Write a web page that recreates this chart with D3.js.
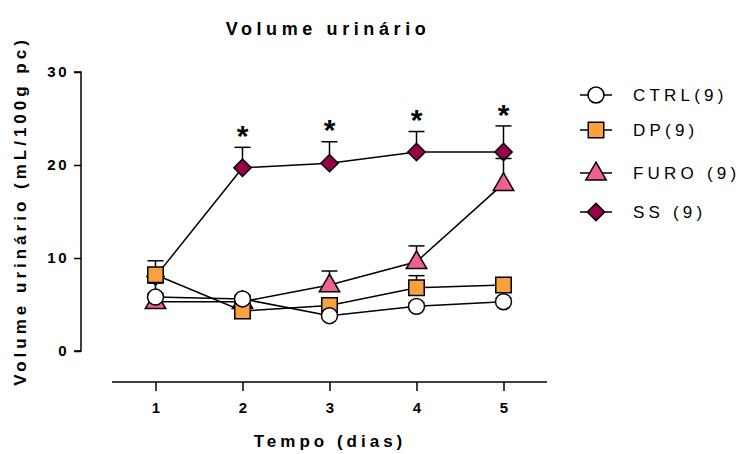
<!DOCTYPE html>
<html>
<head>
<meta charset="utf-8">
<script src="https://cdn.jsdelivr.net/npm/d3@7"></script>
<style>
  body { margin: 0; background: #fff; }
  svg { display: block; font-family: "Liberation Sans", Arial, sans-serif; }
</style>
</head>
<body>
<svg id="chart" width="739" height="454"></svg>
<script>
const days = [1, 2, 3, 4, 5];
const yTicks = [0, 10, 20, 30];

const ctrl = [5.8, 5.6, 3.8, 4.8, 5.3];
const ctrlErr = [0.4, 0.4, 0.3, 0.4, 0.4];
const dp = [8.2, 4.3, 4.9, 6.8, 7.1];
const dpErr = [1.5, 0.5, 0.5, 1.3, 0.6];
const furo = [5.3, 5.3, 7.1, 9.6, 18.0];
const furoErr = [2.0, 0.5, 1.5, 1.7, 2.7];
const ss = [8.0, 19.7, 20.2, 21.4, 21.4];
const ssErr = [0.6, 2.2, 2.3, 2.2, 2.8];
const ssSignif = [false, true, true, true, true];

const seriesNames = ["CTRL(9)", "DP(9)", "FURO (9)", "SS (9)"];

const series = [
  { name: seriesNames[0], values: ctrl, err: ctrlErr, shape: "circle", fill: "#ffffff" },
  { name: seriesNames[1], values: dp, err: dpErr, shape: "square", fill: "#f9a03f" },
  { name: seriesNames[2], values: furo, err: furoErr, shape: "triangle", fill: "#f06090" },
  { name: seriesNames[3], values: ss, err: ssErr, shape: "diamond", fill: "#990049", stars: ssSignif },
];

const svg = d3.select("#chart");

const x = d3.scaleLinear().domain([0.5, 5.5]).range([112, 547]);
const y = d3.scaleLinear().domain([0, 30]).range([351, 72]);

// y axis
const yAxis = svg.append("g")
  .attr("transform", "translate(81,0)")
  .call(d3.axisLeft(y).tickValues(yTicks).tickSize(7).tickPadding(5));
yAxis.select(".domain").attr("stroke", "#000").attr("stroke-width", 1.5).attr("d", `M-7,${y(30)}H0V${y(0)}H-7`);
yAxis.selectAll(".tick line").attr("stroke", "#000").attr("stroke-width", 1.5);
yAxis.selectAll(".tick text")
  .attr("fill", "#000")
  .attr("font-size", 15)
  .attr("font-weight", "bold")
  .attr("letter-spacing", 2.5)
  .attr("font-family", "Liberation Sans, Arial, sans-serif");

// x axis
const xAxis = svg.append("g")
  .attr("transform", "translate(0,382)")
  .call(d3.axisBottom(x).tickValues(days).tickSize(9).tickPadding(11).tickFormat(d3.format("d")));
xAxis.select(".domain").attr("stroke", "#000").attr("stroke-width", 1.5).attr("d", `M${x(0.5)},0H${x(5.5)}`);
xAxis.selectAll(".tick line").attr("stroke", "#000").attr("stroke-width", 1.5);
xAxis.selectAll(".tick text")
  .attr("fill", "#000")
  .attr("font-size", 15)
  .attr("font-weight", "bold")
  .attr("font-family", "Liberation Sans, Arial, sans-serif");

// titles
svg.append("text")
  .attr("x", 328).attr("y", 35)
  .attr("text-anchor", "middle")
  .attr("font-size", 18).attr("font-weight", "bold").attr("letter-spacing", 4.6)
  .text("Volume urinário");

svg.append("text")
  .attr("x", 330).attr("y", 447)
  .attr("text-anchor", "middle")
  .attr("font-size", 17).attr("font-weight", "bold").attr("letter-spacing", 4)
  .text("Tempo (dias)");

svg.append("text")
  .attr("transform", "translate(26,211) rotate(-90)")
  .attr("text-anchor", "middle")
  .attr("font-size", 17).attr("font-weight", "bold").attr("letter-spacing", 4)
  .text("Volume urinário (mL/100g pc)");

const symbolTypes = {
  circle: d3.symbolCircle,
  square: d3.symbolSquare,
  triangle: d3.symbolTriangle,
  diamond: d3.symbolSquare,
};
const symbolSizes = { circle: 200, square: 240, triangle: 180, diamond: 150 };

function marker(g, s) {
  const p = g.append("path")
    .attr("d", d3.symbol().type(symbolTypes[s.shape]).size(symbolSizes[s.shape])())
    .attr("fill", s.fill)
    .attr("stroke", "#000")
    .attr("stroke-width", 1.5);
  if (s.shape === "diamond") p.attr("transform", "rotate(45)");
  if (s.shape === "triangle") p.attr("transform", "translate(0,1)");
  return p;
}

const line = d3.line().x((d, i) => x(days[i])).y((d) => y(d));

// draw last series first so CTRL ends on top
series.slice().reverse().forEach((s) => {
  const g = svg.append("g");
  // error bars (upper only)
  days.forEach((d, i) => {
    const top = y(s.values[i] + s.err[i]);
    g.append("line")
      .attr("x1", x(d)).attr("x2", x(d))
      .attr("y1", y(s.values[i])).attr("y2", top)
      .attr("stroke", "#000").attr("stroke-width", 1.5);
    g.append("line")
      .attr("x1", x(d) - 8).attr("x2", x(d) + 8)
      .attr("y1", top).attr("y2", top)
      .attr("stroke", "#000").attr("stroke-width", 1.5);
    if (s.stars && s.stars[i]) {
      g.append("text")
        .attr("x", x(d)).attr("y", top - 1)
        .attr("text-anchor", "middle")
        .attr("font-size", 30).attr("font-weight", "bold")
        .attr("dy", "0.62em")
        .attr("transform", `translate(0,-19)`)
        .text("*");
    }
  });
  g.append("path")
    .datum(s.values)
    .attr("fill", "none")
    .attr("stroke", "#000")
    .attr("stroke-width", 1.5)
    .attr("d", line);
  s.values.forEach((v, i) => {
    const mg = g.append("g").attr("transform", `translate(${x(days[i])},${y(v)})`);
    marker(mg, s);
  });
});

// legend
const legendY = [95, 130, 173, 212];
series.forEach((s, i) => {
  const g = svg.append("g").attr("transform", `translate(596,${legendY[i]})`);
  g.append("line").attr("x1", -16).attr("x2", 16).attr("stroke", "#000").attr("stroke-width", 1.5);
  marker(g, s);
  g.append("text")
    .attr("x", 37).attr("y", 0).attr("dy", "0.35em")
    .attr("font-size", 17).attr("letter-spacing", 4.2)
    .text(s.name);
});
</script>
</body>
</html>
